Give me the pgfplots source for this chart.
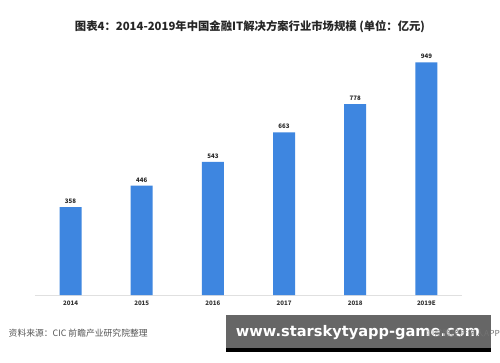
\documentclass[border=0pt]{standalone}
\usepackage{fontspec}
\setmainfont{Noto Sans CJK SC}
\newfontfamily\wmfont{DejaVu Sans}
\usepackage{graphicx}
\usepackage{pgfplots}
\pgfplotsset{compat=1.18}
\definecolor{barblue}{HTML}{3E86E0}
\definecolor{srcgray}{HTML}{555555}
\begin{document}
\begin{tikzpicture}[x=0.75pt,y=0.75pt]
\fill[white] (0,0) rectangle (500,362);
\node[font=\bfseries\fontsize{8.5}{10}\selectfont, text=black!85] at (250,335) {图表4：2014-2019年中国金融IT解决方案行业市场规模 (单位：亿元)};
\begin{axis}[
  at={(26.25pt,50.25pt)}, anchor=south west,
  scale only axis, width=320.25pt, height=191.25pt,
  xmin=-0.5, xmax=5.5, ymin=0, ymax=1040,
  axis y line=none, axis x line*=bottom,
  axis line style={draw=black!12, line width=0.6pt},
  xtick={0,1,2,3,4,5},
  xticklabels={2014,2015,2016,2017,2018,2019E},
  major tick length=0pt,
  xticklabel style={font=\bfseries\fontsize{4.6}{5}\selectfont, text=black!80, yshift=-1pt},
  /pgf/number format/assume math mode=true,
  ybar, bar width=16.5pt,
  nodes near coords,
  nodes near coords style={font=\bfseries\fontsize{4.6}{5}\selectfont, text=black!85, yshift=-1pt},
  clip=false,
]
\addplot[fill=barblue, draw=none] coordinates {(0,358) (1,446) (2,543) (3,663) (4,778) (5,949)};
\end{axis}
\node[anchor=west, font=\fontsize{6.6}{8}\selectfont, text=srcgray] at (4,29) {资料来源：CIC 前瞻产业研究院整理};
\fill[black!60] (226,10) rectangle (491,47);
\fill[black] (226,10) rectangle (491,14);
\node[text=white, inner sep=0pt] at (358,29) {\resizebox{183pt}{!}{\wmfont\bfseries www.starskytyapp-game.com}};
\node[anchor=east, font=\fontsize{6.2}{8}\selectfont, text=black!55, inner sep=0pt] at (500,29) {◎前瞻经济学人APP};
\end{tikzpicture}
\end{document}
